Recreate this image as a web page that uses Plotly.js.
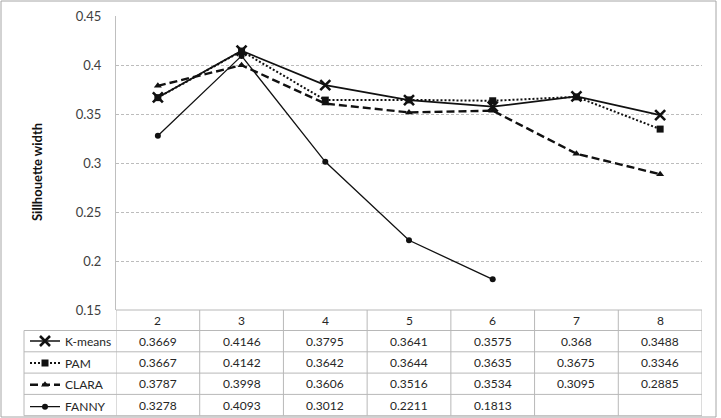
<!DOCTYPE html>
<html>
<head>
<meta charset="utf-8">
<script src="https://cdn.plot.ly/plotly-3.0.1.min.js"></script>
<style>
  html, body { margin: 0; padding: 0; background: #ffffff; }
  #chart { width: 721px; height: 418px; }
</style>
</head>
<body>
<div id="chart"></div>
<script>
// Number of clusters (k) on the category axis
const categories = [2, 3, 4, 5, 6, 7, 8];

// Average silhouette width per clustering method
const kmeans = [0.3669, 0.4146, 0.3795, 0.3641, 0.3575, 0.368, 0.3488];
const pam    = [0.3667, 0.4142, 0.3642, 0.3644, 0.3635, 0.3675, 0.3346];
const clara  = [0.3787, 0.3998, 0.3606, 0.3516, 0.3534, 0.3095, 0.2885];
const fanny  = [0.3278, 0.4093, 0.3012, 0.2211, 0.1813, null, null];

const seriesNames = ['K-means', 'PAM', 'CLARA', 'FANNY'];
const seriesValues = [kmeans, pam, clara, fanny];

const yTitle = 'Sillhouette width';

// ---- geometry of the figure (pixels) ----
const W = 721, H = 418;
const plotL = 116, plotR = 702, plotT = 16, plotB = 310;
const rowH = 21.3;           // height of one data-table row
const headerH = 20.5;        // height of the k header row
const tableLeft = 24;        // left edge of the legend column

const px2x = px => (px - plotL) / (plotR - plotL);
const px2y = py => (plotB - py) / (plotB - plotT);

const FONT = 'Lato, "Open Sans", sans-serif';
const TEXT = '#262626';
const GRIDC = '#b8b8b8';

// per-series styling
const styles = [
  { line: { color: '#111', width: 1.7, dash: 'solid' },
    marker: { symbol: 'x-thin-open', size: 10, color: '#111', line: { color: '#111', width: 2.6 } } },
  { line: { color: '#111', width: 2, dash: '2px,2px' },
    marker: { symbol: 'square', size: 7, color: '#111' } },
  { line: { color: '#111', width: 2.4, dash: '8px,4px' },
    marker: { symbol: 'triangle-up', size: 7, color: '#111' } },
  { line: { color: '#111', width: 1.3, dash: 'solid' },
    marker: { symbol: 'circle', size: 6, color: '#111' } }
];

const traces = seriesNames.map((name, i) => ({
  type: 'scatter',
  mode: 'lines+markers',
  name: name,
  legendgroup: 'g' + i,
  x: categories,
  y: seriesValues[i],
  connectgaps: false,
  line: styles[i].line,
  marker: styles[i].marker,
  cliponaxis: false,
  hoverinfo: 'skip'
}));

// ---- data table underneath the plot ----
const shapes = [];
const annotations = [];
const lineStyle = { color: GRIDC, width: 1 };

const headerTop = plotB;
const headerBot = plotB + headerH;
const rowTops = seriesNames.map((_, i) => headerBot + i * rowH);
const tableBot = headerBot + seriesNames.length * rowH;

// header row top edge (along the plot bottom)
shapes.push({ type: 'line', xref: 'paper', yref: 'paper',
  x0: 0, x1: 1, y0: px2y(headerTop), y1: px2y(headerTop), line: lineStyle });
// horizontal rules under the header and each row
[headerBot].concat(rowTops.map(t => t + rowH)).forEach(py => {
  shapes.push({ type: 'line', xref: 'paper', yref: 'paper',
    x0: px2x(tableLeft), x1: 1, y0: px2y(py), y1: px2y(py), line: lineStyle });
});
// vertical column separators at category boundaries
const bounds = [categories[0] - 0.5].concat(categories.map(c => c + 0.5));
bounds.forEach(b => {
  shapes.push({ type: 'line', xref: 'x', yref: 'paper',
    x0: b, x1: b, y0: px2y(headerTop), y1: px2y(tableBot), line: lineStyle });
});
// left edge of legend column
shapes.push({ type: 'line', xref: 'paper', yref: 'paper',
  x0: px2x(tableLeft), x1: px2x(tableLeft), y0: px2y(headerBot), y1: px2y(tableBot), line: lineStyle });
// outer frame of the figure
shapes.push({ type: 'rect', xref: 'paper', yref: 'paper', layer: 'below',
  x0: px2x(1), x1: px2x(716), y0: px2y(1), y1: px2y(417),
  line: { color: '#a6a6a6', width: 1 } });

// header labels (k)
categories.forEach(c => {
  annotations.push({ xref: 'x', yref: 'paper', x: c, y: px2y((headerTop + headerBot) / 2),
    text: String(c), showarrow: false, xanchor: 'center', yanchor: 'middle',
    font: { family: FONT, size: 12, color: TEXT } });
});
// value cells
seriesValues.forEach((vals, r) => {
  vals.forEach((v, j) => {
    if (v === null) return;
    annotations.push({ xref: 'x', yref: 'paper', x: categories[j],
      y: px2y(rowTops[r] + rowH / 2),
      text: String(v), showarrow: false, xanchor: 'center', yanchor: 'middle',
      font: { family: FONT, size: 12, color: TEXT } });
  });
});
// vertical axis title, set left of the tick labels
annotations.push({ xref: 'paper', yref: 'paper', x: px2x(37), y: px2y(172),
  text: yTitle, textangle: -90, showarrow: false, xanchor: 'center', yanchor: 'middle',
  font: { family: FONT, size: 13, color: '#111', weight: 'bold' } });

const layout = {
  width: W,
  height: H,
  margin: { l: plotL, r: W - plotR, t: plotT, b: H - plotB, pad: 0, autoexpand: false },
  paper_bgcolor: '#ffffff',
  plot_bgcolor: '#ffffff',
  font: { family: FONT, size: 12, color: TEXT },
  showlegend: true,
  legend: {
    x: px2x(tableLeft + 1), y: px2y(headerBot - 4), xanchor: 'left', yanchor: 'top',
    font: { family: FONT, size: 12, color: TEXT },
    tracegroupgap: rowH - 18.4,
    bgcolor: 'rgba(0,0,0,0)', borderwidth: 0, itemwidth: 30, itemclick: false
  },
  xaxis: {
    range: [categories[0] - 0.5, categories[categories.length - 1] + 0.5],
    showgrid: false, zeroline: false, showline: false,
    showticklabels: false, ticks: '', fixedrange: true
  },
  yaxis: {
    range: [0.15, 0.45], dtick: 0.05, tick0: 0.15,
    showgrid: true, gridcolor: '#bcbcbc', gridwidth: 1, griddash: '3px,2px',
    zeroline: false, showline: true, linecolor: '#bfbfbf', linewidth: 1,
    ticks: '', ticklabelstandoff: 11,
    tickfont: { family: FONT, size: 13, color: '#404040' },
    automargin: false, fixedrange: true
  },
  shapes: shapes,
  annotations: annotations
};

Plotly.newPlot('chart', traces, layout, { displayModeBar: false, staticPlot: true });
</script>
</body>
</html>
